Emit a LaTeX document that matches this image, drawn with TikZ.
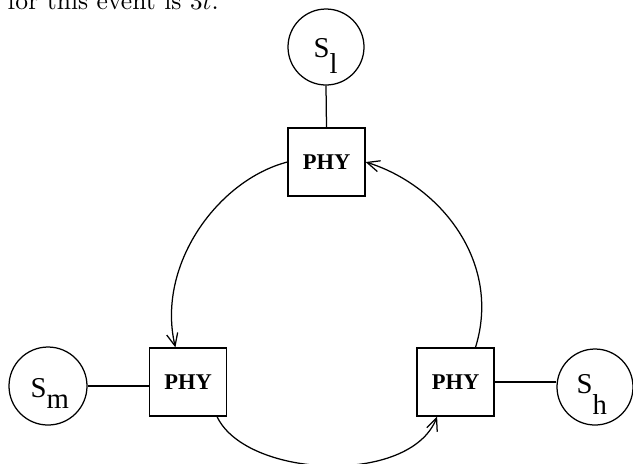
\documentclass[tikz,border=0pt]{standalone}
\usepackage{fontspec}
\newfontfamily\tms{Liberation Serif}
\usetikzlibrary{arrows.meta}
\begin{document}
\begin{tikzpicture}[x=0.4pt,y=-0.4pt,line width=0.5pt,
  station/.style={draw,circle,minimum size=30.4pt,inner sep=0pt},
  phybox/.style={draw,rectangle,minimum width=30.8pt,minimum height=27.2pt,inner sep=0pt,
    font=\fontsize{9}{10}\selectfont\tms\bfseries},
  lbl/.style={anchor=base west,inner sep=0pt,font=\fontsize{11.5}{12}\selectfont\tms},
  link/.style={-{Straight Barb[length=5pt,width=4.5pt]}}]
\useasboundingbox (0,0) rectangle (633,463);

% running text line above the figure
\node[anchor=base west,inner sep=0pt,font=\fontsize{10.24}{12}\selectfont] (caption) at (7,9.5) {for this event is $3t$.};

% stations
\node[station] (Sl) at (326,47) {};
\node[station,minimum size=31.2pt] (Sm) at (48,386) {};
\node[station] (Sh) at (595,387) {};
\node[lbl] (Sl-t) at (313,57) {S\raisebox{-6.4pt}{l}};
\node[lbl] (Sm-t) at (30,397) {S\raisebox{-4.4pt}{m}};
\node[lbl] (Sh-t) at (576,393) {S\raisebox{-8.4pt}{h}};

% physical layer boxes
\node[phybox] (P1) at (326.5,162) {PHY};
\node[phybox] (P2) at (188,382) {PHY};
\node[phybox] (P3) at (455.5,382) {PHY};

% station attachments
\draw (Sl.south) -- (P1.north);
\draw (Sm.east) -- (Sm.east -| P2.west);
\draw (P3.east) -- (P3.east -| Sh.west);

% ring links
\draw[link] (P1.west) .. controls (218,180) and (156,265) .. (P2.110);
\draw[link] (P2.-50) .. controls (246,478) and (410,486) .. (P3.-118);
\draw[link] (P3.60) .. controls (502,262) and (440,185) .. (P1.east);
\end{tikzpicture}
\end{document}
